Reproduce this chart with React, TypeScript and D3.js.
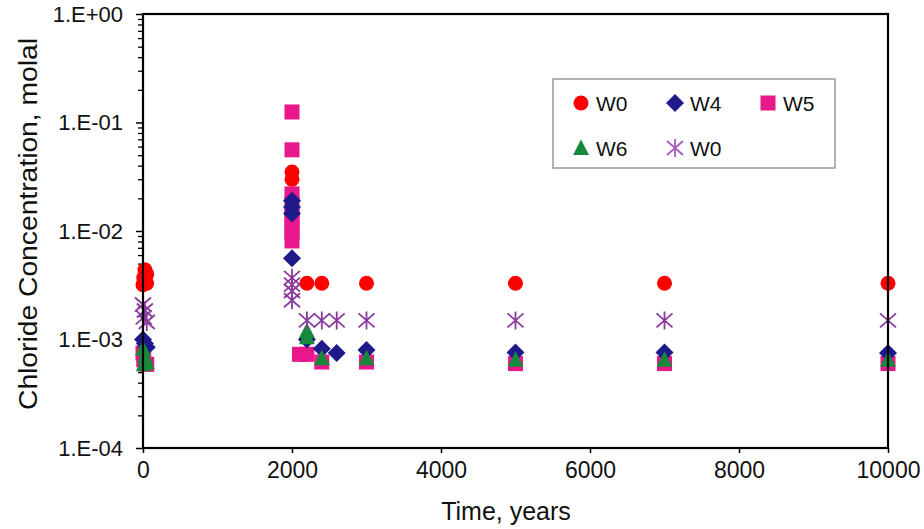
import React, { useRef, useEffect } from "react";
import * as d3 from "d3";

// chloride concentration (molal) vs time (years)
const w0Circle: [number, number][] = [
  [0, 3.2e-3], [10, 3.7e-3], [25, 4.4e-3], [50, 4.0e-3], [50, 3.3e-3],
  [2000, 3.5e-2], [2000, 3.0e-2],
  [2200, 3.3e-3], [2400, 3.3e-3], [3000, 3.3e-3], [5000, 3.3e-3], [7000, 3.3e-3], [10000, 3.3e-3],
];
const w4: [number, number][] = [
  [0, 1.0e-3], [25, 9.2e-4], [50, 8.5e-4],
  [2000, 1.9e-2], [2000, 1.66e-2], [2000, 1.45e-2], [2000, 5.6e-3],
  [2200, 1.0e-3], [2400, 8.2e-4], [2600, 7.5e-4], [3000, 8.0e-4], [5000, 7.6e-4], [7000, 7.6e-4], [10000, 7.5e-4],
];
const w5: [number, number][] = [
  [0, 7.5e-4], [10, 6.5e-4], [50, 5.9e-4],
  [2000, 0.125], [2000, 0.056], [2000, 0.022], [2000, 0.018], [2000, 0.015], [2000, 0.013],
  [2000, 0.011], [2000, 0.0095], [2000, 0.0081],
  [2100, 7.3e-4], [2200, 7.3e-4], [2400, 6.2e-4], [3000, 6.2e-4], [5000, 6.0e-4], [7000, 6.0e-4], [10000, 6.0e-4],
];
const w6: [number, number][] = [
  [0, 8.2e-4], [25, 7.0e-4], [50, 6.2e-4], [10, 5.9e-4],
  [2200, 1.2e-3], [2200, 1.05e-3], [2400, 6.7e-4], [3000, 6.7e-4], [5000, 6.5e-4], [7000, 6.5e-4], [10000, 6.5e-4],
];
const w0Star: [number, number][] = [
  [0, 2.1e-3], [25, 1.85e-3], [10, 1.6e-3], [50, 1.45e-3],
  [2000, 3.7e-3], [2000, 3.2e-3], [2000, 2.8e-3], [2000, 2.3e-3],
  [2200, 1.5e-3], [2400, 1.5e-3], [2600, 1.5e-3], [3000, 1.5e-3], [5000, 1.5e-3], [7000, 1.5e-3], [10000, 1.5e-3],
];

const xTicks = [0, 2000, 4000, 6000, 8000, 10000];
const yTicks = [1e-4, 1e-3, 1e-2, 1e-1, 1];

const series = [
  { name: "W0", shape: "circle", color: "#ff0000", data: w0Circle, legend: [581, 103] },
  { name: "W5", shape: "square", color: "#e8178a", data: w5, legend: [768, 103] },
  { name: "W4", shape: "diamond", color: "#1f1a8a", data: w4, legend: [675, 103] },
  { name: "W6", shape: "triangle", color: "#17893a", data: w6, legend: [581, 148] },
  { name: "W0", shape: "star", color: "#8a3a9f", data: w0Star, legend: [675, 148] },
];

const fmtExp = (v: number) => {
  const e = Math.round(Math.log10(v));
  return "1.E" + (e >= 0 ? "+" : "-") + String(Math.abs(e)).padStart(2, "0");
};

// draws one marker centred at 0,0 inside g
const drawMarker = (g: any, shape: string, color: string) => {
  if (shape === "circle") {
    g.append("circle").attr("r", 7.5).attr("fill", color);
  } else if (shape === "square") {
    g.append("rect").attr("x", -7.5).attr("y", -7.5).attr("width", 15).attr("height", 15).attr("fill", color);
  } else if (shape === "diamond") {
    g.append("path").attr("d", "M0,-9L9,0L0,9L-9,0Z").attr("fill", color);
  } else if (shape === "triangle") {
    g.append("path").attr("d", "M0,-8.5L8,7L-8,7Z").attr("fill", color);
  } else {
    g.append("path")
      .attr("d", "M-8,-7L8,7M-8,7L8,-7M0,-9L0,9")
      .attr("stroke", color)
      .attr("stroke-width", 1.8)
      .attr("fill", "none");
  }
};

const App = () => {
  const ref = useRef<SVGSVGElement>(null);

  useEffect(() => {
    if (!ref.current) return;
    const svg = d3.select(ref.current);
    svg.selectAll("*").remove();

    const left = 143, right = 888, top = 14, bottom = 448;
    const font = "'Liberation Sans', Arial, sans-serif";

    const x = d3.scaleLinear().domain([0, 10000]).range([left, right]);
    const y = d3.scaleLog().domain([1e-4, 1]).range([bottom, top]);

    svg.append("rect").attr("width", 924).attr("height", 529).attr("fill", "#fff");

    // minor ticks on log axis
    const minors: number[] = [];
    yTicks.slice(0, -1).forEach((d) => {
      for (let k = 2; k < 10; k++) minors.push(d * k);
    });
    const yMinor = svg.append("g")
      .attr("transform", `translate(${left},0)`)
      .call(d3.axisLeft(y).tickValues(minors).tickSize(5).tickFormat(() => ""));
    yMinor.select(".domain").remove();
    yMinor.selectAll("line").attr("stroke-width", 1.3);

    const yAxis = svg.append("g")
      .attr("transform", `translate(${left},0)`)
      .call(d3.axisLeft(y).tickValues(yTicks).tickSize(7).tickPadding(13).tickFormat((d: any) => fmtExp(d)));
    yAxis.select(".domain").remove();
    yAxis.selectAll("line").attr("stroke-width", 1.5);
    yAxis.selectAll("text").attr("font-size", 22).attr("font-family", font).attr("fill", "#111");

    const xAxis = svg.append("g")
      .attr("transform", `translate(0,${bottom})`)
      .call(d3.axisBottom(x).tickValues(xTicks).tickSize(5).tickPadding(9).tickFormat(d3.format("d")));
    xAxis.select(".domain").remove();
    xAxis.selectAll("line").attr("stroke-width", 1.5);
    xAxis.selectAll("text").attr("font-size", 23).attr("font-family", font).attr("fill", "#111");

    // markers
    series.forEach((s) => {
      const grp = svg.append("g");
      s.data.forEach(([t, v]) => {
        const g = grp.append("g").attr("transform", `translate(${x(t)},${y(v)})`);
        drawMarker(g, s.shape, s.color);
      });
    });

    // plot frame
    svg.append("rect")
      .attr("x", left).attr("y", top)
      .attr("width", right - left).attr("height", bottom - top)
      .attr("fill", "none").attr("stroke", "#000").attr("stroke-width", 2.2);

    // legend
    const legend = svg.append("g");
    legend.append("rect")
      .attr("x", 553).attr("y", 79).attr("width", 282).attr("height", 89)
      .attr("fill", "#fff").attr("stroke", "#9a9a9a").attr("stroke-width", 1.5);
    series.forEach((s) => {
      const [lx, ly] = s.legend;
      const g = legend.append("g").attr("transform", `translate(${lx},${ly})`);
      drawMarker(g, s.shape, s.shape === "star" ? "#a35cbb" : s.color);
      legend.append("text")
        .attr("x", lx + 15).attr("y", ly + 7.5)
        .attr("font-size", 21).attr("font-family", font).attr("fill", "#111")
        .text(s.name);
    });

    // axis titles
    svg.append("text")
      .attr("transform", "translate(37,224) rotate(-90)")
      .attr("text-anchor", "middle")
      .attr("font-size", 25).attr("font-family", font).attr("fill", "#111")
      .attr("textLength", 372).attr("lengthAdjust", "spacingAndGlyphs")
      .text("Chloride Concentration, molal");

    svg.append("text")
      .attr("x", 506).attr("y", 520)
      .attr("text-anchor", "middle")
      .attr("font-size", 25).attr("font-family", font).attr("fill", "#111")
      .text("Time, years");
  }, []);

  return (
    <svg ref={ref} width={924} height={529} style={{ position: "absolute", left: 0, top: 0 }}></svg>
  );
};

export default App;
